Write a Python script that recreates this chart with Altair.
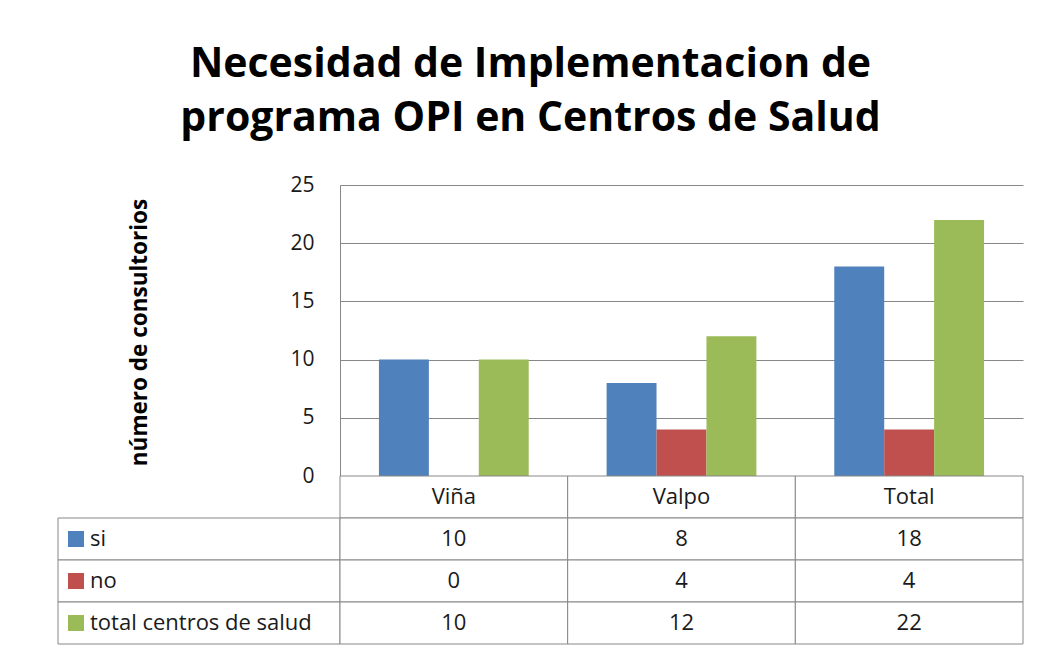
import altair as alt
import pandas as pd

categories = ["Viña", "Valpo", "Total"]
series = ["si", "no", "total centros de salud"]
si_values = [10, 8, 18]
no_values = [0, 4, 4]
total_values = [10, 12, 22]
colors = ["#4F81BD", "#C0504D", "#9BBB59"]
y_ticks = [0, 5, 10, 15, 20, 25]
title_lines = ["Necesidad de Implementacion de", "programa OPI en Centros de Salud"]
y_title = "número de consultorios"
header_row = "categoría"

FONT = "Open Sans"
GRAY = "#878787"
TXT = "#1a1a1a"

series_values = [si_values, no_values, total_values]
rows = []
for s, vals in zip(series, series_values):
    for c, v in zip(categories, vals):
        rows.append({"category": c, "series": s, "value": v})
df = pd.DataFrame(rows)

cells = []
for i, c in enumerate(categories):
    cells.append({"category": c, "row": header_row, "label": c})
    for s, vals in zip(series, series_values):
        cells.append({"category": c, "row": s, "label": str(vals[i])})
cells_df = pd.DataFrame(cells)
table_rows = [header_row] + series
labels_df = pd.DataFrame({"row": series})
ticks_df = pd.DataFrame({"v": y_ticks})

color_scale = alt.Scale(domain=series, range=colors)
y_scale = alt.Scale(domain=[0, 25], nice=False)
cat_scale = alt.Scale(paddingInner=0, paddingOuter=0)
row_scale = alt.Scale(domain=table_rows, paddingInner=0, paddingOuter=0)

# left column, top: the value axis (drawn on the right edge of this cell)
axis_chart = alt.Chart(ticks_df).mark_point(opacity=0).encode(
    y=alt.Y("v:Q", scale=y_scale,
            axis=alt.Axis(orient="right", values=y_ticks, grid=False, ticks=False, tickSize=0,
                          domainColor=GRAY, labelAlign="right", labelPadding=-26,
                          labelFontSize=21, labelFont=FONT, labelColor=TXT,
                          title=y_title, titleFont=FONT, titleFontSize=22.5,
                          titleFontWeight="bold", titleColor="black", titleAngle=-90,
                          titleX=-201, titleY=147, titleAlign="center",
                          titleBaseline="middle")),
).properties(width=282, height=291)

bars = alt.Chart(df).mark_bar().encode(
    x=alt.X("category:N", sort=categories, axis=None, scale=cat_scale),
    xOffset=alt.XOffset("series:N", sort=series,
                        scale=alt.Scale(paddingInner=0, paddingOuter=0.78)),
    y=alt.Y("value:Q", scale=y_scale,
            axis=alt.Axis(values=y_ticks, grid=True, gridColor=GRAY, domain=False,
                          ticks=False, tickSize=0, labels=False, title=None)),
    color=alt.Color("series:N", scale=color_scale, legend=None),
).properties(width=683, height=291)

values_rect = alt.Chart(cells_df).mark_rect(fill="white", stroke=GRAY, strokeWidth=1).encode(
    x=alt.X("category:N", sort=categories, axis=None, scale=cat_scale),
    y=alt.Y("row:N", scale=row_scale, axis=None),
)
values_text = alt.Chart(cells_df).mark_text(font=FONT, fontSize=22, color=TXT).encode(
    x=alt.X("category:N", sort=categories, axis=None, scale=cat_scale),
    y=alt.Y("row:N", scale=row_scale, axis=None),
    text="label:N",
)
values_chart = alt.layer(values_rect, values_text).properties(width=683, height=168)

labels_rect = alt.Chart(labels_df).mark_rect(fill="white", stroke=GRAY, strokeWidth=1).encode(
    y=alt.Y("row:N", scale=row_scale, axis=None),
)
labels_sq = alt.Chart(labels_df).mark_square(filled=True, size=256, opacity=1).encode(
    y=alt.Y("row:N", scale=row_scale, axis=None),
    x=alt.value(18),
    color=alt.Color("row:N", scale=color_scale, legend=None),
)
labels_text = alt.Chart(labels_df).mark_text(font=FONT, fontSize=22, color=TXT,
                                              align="left").encode(
    y=alt.Y("row:N", scale=row_scale, axis=None),
    x=alt.value(32),
    text="row:N",
)
labels_chart = alt.layer(labels_rect, labels_sq, labels_text).properties(width=282, height=168)

chart = alt.concat(
    axis_chart, bars, labels_chart, values_chart,
    columns=2, spacing=0, bounds="flush",
).properties(
    title=alt.TitleParams(title_lines, font=FONT, fontSize=41, fontWeight="bold",
                          color="black", anchor="middle", lineHeight=54, offset=34, dx=-10),
    padding={"left": 49, "top": 36, "right": 5, "bottom": 0},
).configure(
    background="white",
    view=alt.ViewConfig(strokeWidth=0, stroke="transparent"),
)

chart.save("out.html", embed_options={"renderer": "svg", "actions": False})
